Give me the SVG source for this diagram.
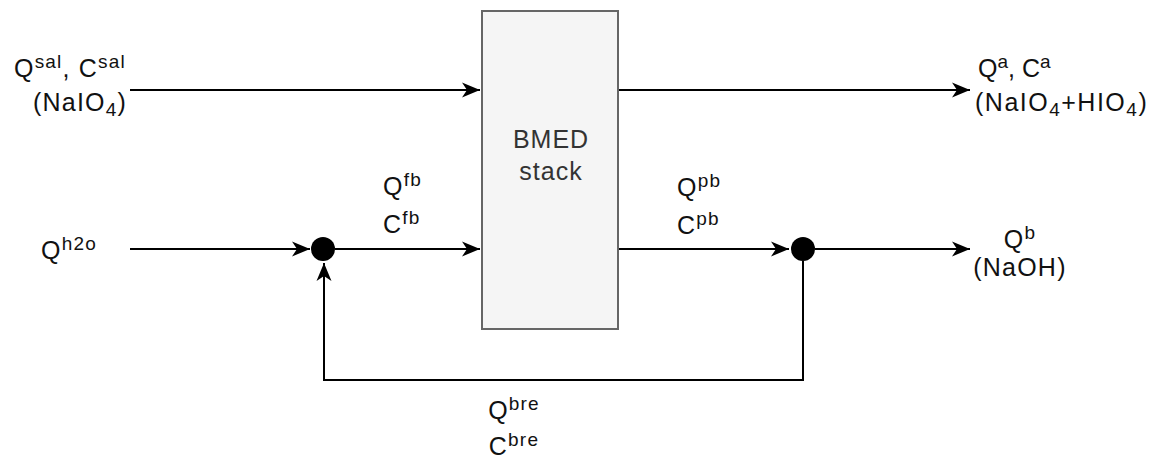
<svg xmlns="http://www.w3.org/2000/svg" width="1154" height="455" viewBox="0 0 1154 455">
<style>
text{font-family:"Liberation Sans",Arial,sans-serif;font-size:25px;fill:#111;letter-spacing:1.2px}
.box{fill:#f5f5f5;stroke:#666;stroke-width:2}
.title{fill:#333;font-size:25px;letter-spacing:1px}
.s{font-size:19px}
.ln{fill:none;stroke:#000;stroke-width:2}
.dot{fill:#000}
</style>
<defs>
<marker id="ar" markerUnits="userSpaceOnUse" markerWidth="20" markerHeight="16" viewBox="-18 -8 20 16" refX="0" refY="0" orient="auto">
<path d="M0,0 L-18,-7.5 L-13,0 L-18,7.5 Z" fill="#000"/>
</marker>
</defs>
<g id="connectors">
<path class="ln" d="M130,90 L480,90" marker-end="url(#ar)"/>
<path class="ln" d="M618,90 L970,90" marker-end="url(#ar)"/>
<path class="ln" d="M130,249 L310,249" marker-end="url(#ar)"/>
<path class="ln" d="M335,249 L480,249" marker-end="url(#ar)"/>
<path class="ln" d="M618,249 L789,249" marker-end="url(#ar)"/>
<path class="ln" d="M815,249 L970,249" marker-end="url(#ar)"/>
<path class="ln" d="M803,261 L803,380 L324,380 L324,263" marker-end="url(#ar)"/>
</g>
<g id="bmed">
<rect class="box" x="482" y="11" width="136" height="318"/>
<text class="title" x="551" y="148" text-anchor="middle">BMED</text>
<text class="title" x="551" y="180" text-anchor="middle">stack</text>
</g>
<g id="mix1"><circle class="dot" cx="323" cy="249" r="12"/></g>
<g id="split2"><circle class="dot" cx="803" cy="249" r="12"/></g>
<g id="in-sal">
<text x="70" y="77" text-anchor="middle">Q<tspan class="s" dy="-9">sal</tspan><tspan dy="9">, C</tspan><tspan class="s" dy="-9">sal</tspan></text>
<text x="80" y="111" text-anchor="middle">(NaIO<tspan class="s" dy="5">4</tspan><tspan dy="-5">)</tspan></text>
</g>
<g id="out-a">
<text x="978" y="77" style="letter-spacing:0px">Q<tspan class="s" dy="-9">a</tspan><tspan dy="9">, C</tspan><tspan class="s" dy="-9">a</tspan></text>
<text x="975" y="111" style="letter-spacing:1.5px">(NaIO<tspan class="s" dy="5">4</tspan><tspan dy="-5">+HIO</tspan><tspan class="s" dy="5">4</tspan><tspan dy="-5">)</tspan></text>
</g>
<g id="in-h2o">
<text x="41" y="259">Q<tspan class="s" dy="-9">h2o</tspan></text>
</g>
<g id="lbl-fb">
<text x="383" y="195">Q<tspan class="s" dy="-9">fb</tspan></text>
<text x="383" y="233">C<tspan class="s" dy="-9">fb</tspan></text>
</g>
<g id="lbl-pb">
<text x="677" y="196">Q<tspan class="s" dy="-9">pb</tspan></text>
<text x="677" y="234">C<tspan class="s" dy="-9">pb</tspan></text>
</g>
<g id="out-b">
<text x="1020" y="248" text-anchor="middle">Q<tspan class="s" dy="-9">b</tspan></text>
<text x="1020" y="276" text-anchor="middle">(NaOH)</text>
</g>
<g id="lbl-bre">
<text x="514" y="419" text-anchor="middle">Q<tspan class="s" dy="-9">bre</tspan></text>
<text x="514" y="455" text-anchor="middle">C<tspan class="s" dy="-9">bre</tspan></text>
</g>
</svg>
